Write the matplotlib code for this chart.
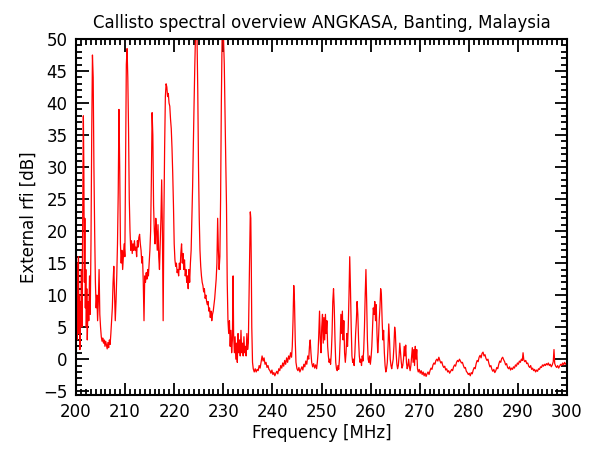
import matplotlib
matplotlib.use("Agg")
import matplotlib.pyplot as plt
from matplotlib.ticker import MultipleLocator

# (frequency MHz, external rfi dB), segment by segment
seg_200_236 = [
    (200.0, 2), (200.1, 8), (200.2, 3), (200.3, 15), (200.4, 5), (200.5, 16), (200.6, 4),
    (200.7, 10), (200.8, 1.5), (200.9, 9), (201.0, 6), (201.1, 14), (201.2, 5), (201.35, 20),
    (201.5, 38), (201.6, 30), (201.7, 12), (201.8, 22), (201.9, 8), (202.0, 14), (202.1, 5),
    (202.2, 11), (202.3, 3), (202.45, 9), (202.6, 6), (202.75, 13), (202.9, 7), (203.05, 18),
    (203.2, 35), (203.35, 47.5), (203.5, 44), (203.65, 30), (203.8, 20), (203.95, 12),
    (204.1, 8), (204.25, 10), (204.4, 6), (204.55, 9), (204.7, 14), (204.85, 7), (205.0, 5),
    (205.15, 3.5), (205.3, 2.8), (205.45, 3.3), (205.6, 2.5), (205.75, 3), (205.9, 2),
    (206.05, 2.8), (206.2, 2.2), (206.35, 1.6), (206.5, 2.6), (206.65, 1.8), (206.8, 3),
    (206.95, 2.3), (207.1, 4), (207.25, 6), (207.4, 8), (207.55, 12), (207.7, 14.5),
    (207.85, 10), (208.0, 6), (208.15, 9), (208.3, 13), (208.45, 18), (208.6, 26),
    (208.75, 39), (208.9, 30), (209.05, 18), (209.2, 15), (209.35, 17), (209.5, 14),
    (209.65, 16), (209.8, 18), (209.95, 16), (210.1, 30), (210.25, 46), (210.4, 48.5),
    (210.55, 44), (210.7, 36), (210.85, 25), (211.0, 20), (211.15, 17), (211.3, 18.5),
    (211.45, 16.5), (211.6, 18), (211.75, 17), (211.9, 18.5), (212.05, 17), (212.2, 17.5),
    (212.35, 16), (212.5, 18.5), (212.65, 17.5), (212.8, 19), (212.95, 19.5), (213.1, 18),
    (213.25, 17), (213.4, 15), (213.55, 16), (213.7, 12), (213.85, 6), (214.0, 13),
    (214.15, 12), (214.3, 13.5), (214.45, 12.5), (214.6, 14), (214.75, 13), (214.9, 15),
    (215.05, 17), (215.2, 20), (215.35, 28), (215.5, 38.5), (215.65, 35), (215.8, 24),
    (215.95, 20), (216.1, 18), (216.25, 22), (216.4, 20), (216.55, 17), (216.7, 21),
    (216.85, 16), (217.0, 14), (217.15, 18), (217.3, 22), (217.45, 28), (217.6, 20),
    (217.75, 6), (217.9, 22), (218.05, 33), (218.2, 41), (218.35, 43), (218.5, 42.5),
    (218.65, 41), (218.8, 41.5), (218.95, 40), (219.1, 39.5), (219.25, 37.5), (219.4, 36),
    (219.55, 33), (219.7, 29), (219.85, 24), (220.0, 18), (220.15, 15.5), (220.3, 14.5),
    (220.45, 15), (220.6, 13.5), (220.75, 14), (220.9, 13), (221.05, 15), (221.2, 14),
    (221.35, 16.5), (221.5, 18), (221.65, 15), (221.8, 16.5), (221.95, 14), (222.1, 15.5),
    (222.25, 13), (222.4, 14), (222.55, 12), (222.7, 13), (222.85, 11), (223.0, 14),
    (223.15, 12), (223.3, 15), (223.45, 17), (223.6, 22), (223.75, 27), (223.9, 34),
    (224.05, 40), (224.2, 46), (224.35, 51), (224.5, 53), (224.65, 50), (224.8, 42),
    (224.95, 30), (225.1, 22), (225.25, 17), (225.4, 14.5), (225.55, 13), (225.7, 12),
    (225.85, 11.5), (226.0, 10.5), (226.15, 11), (226.3, 9.5), (226.45, 10), (226.6, 9),
    (226.75, 8.5), (226.9, 9), (227.05, 7.5), (227.2, 8), (227.35, 6.5), (227.5, 7.5),
    (227.65, 6), (227.8, 7), (227.95, 7.5), (228.1, 8.5), (228.25, 9.5), (228.4, 11),
    (228.55, 12.5), (228.7, 15), (228.85, 22), (229.0, 17), (229.15, 14), (229.3, 16),
    (229.45, 25), (229.6, 40), (229.75, 50), (229.9, 53), (230.05, 50), (230.2, 46),
    (230.35, 38), (230.5, 31), (230.65, 24), (230.8, 12), (230.95, 6), (231.1, 4),
    (231.25, 6), (231.4, 2), (231.55, 4.5), (231.7, 1), (231.85, 3), (232.0, 13),
    (232.1, 4), (232.25, 1), (232.4, 3.5), (232.55, 0), (232.7, 2.5), (232.85, -0.5),
    (233.0, 4), (233.15, 1), (233.3, 3), (233.45, 0.5), (233.6, 4.5), (233.75, 1),
    (233.9, 2.5), (234.05, 0.5), (234.2, 3.5), (234.35, 1), (234.5, 2), (234.65, 0.5),
    (234.8, 4), (234.95, 1.5), (235.1, 2.5), (235.25, 10), (235.4, 18), (235.5, 23),
    (235.6, 22), (235.7, 15), (235.8, 5), (235.95, -0.5),
]

seg_236_270 = [
    (236.1, -1.5), (236.3, -2), (236.5, -1.5), (236.7, -2), (236.9, -1.6), (237.1, -1.8),
    (237.3, -1), (237.5, -1.4), (237.7, -0.5), (237.9, 0.5), (238.1, -0.3), (238.3, 0.2),
    (238.5, -0.8), (238.7, -0.5), (238.9, -1.3), (239.1, -1), (239.3, -1.6), (239.5, -1.8),
    (239.7, -2.2), (239.9, -1.7), (240.1, -2.4), (240.3, -2.1), (240.5, -2.6), (240.7, -2.2),
    (240.9, -1.9), (241.1, -2.3), (241.3, -1.5), (241.5, -1.8), (241.7, -1.0), (241.9, -1.4),
    (242.1, -0.6), (242.3, -1.1), (242.5, -0.2), (242.7, -0.8), (242.9, 0.2), (243.1, -0.5),
    (243.3, 0.5), (243.5, 0), (243.7, 1), (243.9, 0.3), (244.05, 2), (244.2, 6),
    (244.35, 11.5), (244.5, 9), (244.65, 3), (244.8, -0.5), (245.0, -1.5), (245.2, -1.8),
    (245.4, -1.3), (245.6, -2), (245.8, -1.6), (246.0, -1.2), (246.2, -1.7), (246.4, -0.8),
    (246.6, -1.2), (246.8, -0.3), (247.0, -0.8), (247.2, 0.5), (247.4, 0), (247.55, 2),
    (247.7, 3), (247.85, 1), (248.0, -0.5), (248.2, -1.2), (248.4, -0.7), (248.6, -1.4),
    (248.8, -0.9), (249.0, -1.5), (249.15, -0.5), (249.3, 1), (249.45, 4), (249.6, 7.5),
    (249.75, 3), (249.9, 1), (250.05, 5), (250.2, 7), (250.35, 2.5), (250.5, 6.5),
    (250.65, 3), (250.8, 7), (250.95, 4), (251.1, 6), (251.25, 2), (251.4, 0.5),
    (251.55, -0.5), (251.7, 0), (251.85, -0.8), (252.0, 1), (252.15, 4), (252.3, 9),
    (252.45, 11), (252.6, 8), (252.75, 3), (252.9, -0.5), (253.05, -1.5), (253.2, -1.8),
    (253.35, -1), (253.5, -1.6), (253.65, 0), (253.8, 3), (253.95, 7), (254.1, 4),
    (254.25, 7.5), (254.4, 3), (254.55, 6), (254.7, 1), (254.85, -0.5), (255.0, 1),
    (255.15, 4), (255.3, 2), (255.45, 5), (255.6, 10), (255.75, 16), (255.9, 11),
    (256.05, 5), (256.2, 0.5), (256.35, -0.5), (256.5, 0), (256.65, -1), (256.8, 1),
    (256.95, 4), (257.1, 6), (257.25, 9), (257.4, 7), (257.55, 3), (257.7, 0.5),
    (257.85, -0.5), (258.0, 0), (258.15, -1), (258.3, 0.5), (258.45, -0.3), (258.6, 1.5),
    (258.75, 5), (258.9, 10), (259.05, 14), (259.2, 9), (259.35, 3), (259.5, 0),
    (259.65, -0.5), (259.8, 0.5), (259.95, -0.8), (260.1, 0.3), (260.25, 2), (260.4, 5),
    (260.55, 8), (260.7, 7), (260.85, 9), (261.0, 6), (261.15, 8.5), (261.3, 4),
    (261.45, 1), (261.6, 3), (261.75, 6), (261.9, 8), (262.05, 11), (262.2, 10),
    (262.35, 6), (262.5, 3), (262.65, 4.5), (262.8, 1), (262.95, -1), (263.1, -2),
    (263.25, -1.5), (263.4, -0.5), (263.55, 2), (263.7, 5.5), (263.85, 3), (264.0, 0),
    (264.15, -1), (264.3, -1.5), (264.45, -0.8), (264.6, 0), (264.75, 2), (264.9, 5),
    (265.05, 4), (265.2, 1), (265.35, -0.8), (265.5, -1.5), (265.65, -1), (265.8, 0.5),
    (265.95, 2.5), (266.1, 1), (266.25, -0.5), (266.4, -1.4), (266.55, -1), (266.7, 0),
    (266.85, 2), (267.0, 0.5), (267.15, 2.2), (267.3, -0.5), (267.45, -1.5), (267.6, -1),
    (267.75, 0), (267.9, -1.2), (268.05, -1.8), (268.2, -1), (268.35, 0.5), (268.5, 1.8),
    (268.65, -0.5), (268.8, 1.5), (268.95, -1), (269.1, 2), (269.25, 0), (269.4, 1.5),
    (269.55, -1.5), (269.7, -2), (269.9, -1.6),
]

seg_270_300 = [
    (270.1, -2.2), (270.3, -1.8), (270.5, -2.4), (270.7, -2), (270.9, -2.6), (271.1, -2.2),
    (271.3, -2.7), (271.5, -2.3), (271.7, -2), (271.9, -2.4), (272.1, -1.8), (272.3, -1.4),
    (272.5, -1.6), (272.7, -0.9), (272.9, -0.6), (273.1, -0.8), (273.3, -0.2), (273.5, 0),
    (273.7, -0.3), (273.9, 0.3), (274.1, -0.2), (274.3, -0.6), (274.5, -0.4), (274.7, -1),
    (274.9, -1.3), (275.1, -1.1), (275.3, -1.7), (275.5, -1.5), (275.7, -2), (275.9, -1.8),
    (276.1, -2.2), (276.3, -1.9), (276.5, -1.6), (276.7, -1.8), (276.9, -1.2), (277.1, -0.9),
    (277.3, -1.1), (277.5, -0.5), (277.7, -0.2), (277.9, -0.4), (278.1, 0), (278.3, -0.3),
    (278.5, -0.6), (278.7, -0.5), (278.9, -1), (279.1, -1.4), (279.3, -1.3), (279.5, -1.9),
    (279.7, -2.1), (279.9, -2.4), (280.1, -2.2), (280.3, -2.6), (280.5, -2.1), (280.7, -2.3),
    (280.9, -1.7), (281.1, -1.3), (281.3, -1.5), (281.5, -0.7), (281.7, -0.2), (281.9, -0.4),
    (282.1, 0.3), (282.3, 0.6), (282.5, 0.2), (282.7, 0.9), (282.9, 1.1), (283.1, 0.5),
    (283.3, 0.7), (283.5, 0.1), (283.7, -0.2), (283.9, 0), (284.1, -0.7), (284.3, -1.2),
    (284.5, -1), (284.7, -1.6), (284.9, -1.9), (285.1, -1.6), (285.3, -2.1), (285.5, -1.8),
    (285.7, -1.3), (285.9, -1.5), (286.1, -0.8), (286.3, -0.3), (286.5, -0.5), (286.7, 0.1),
    (286.9, 0.3), (287.1, -0.1), (287.3, -0.4), (287.5, -0.9), (287.7, -0.7), (287.9, -1.3),
    (288.1, -1.5), (288.3, -1.2), (288.5, -1.7), (288.7, -1.4), (288.9, -1.6), (289.1, -1.2),
    (289.3, -1.4), (289.5, -0.9), (289.7, -1.1), (289.9, -0.6), (290.1, -0.8), (290.3, -0.3),
    (290.5, -0.5), (290.7, 0), (290.9, -0.2), (291.05, 1), (291.2, -0.1), (291.4, -0.4),
    (291.6, -0.2), (291.8, -0.7), (292.0, -0.6), (292.2, -1.1), (292.4, -1.3), (292.6, -1.0),
    (292.8, -1.6), (293.0, -1.4), (293.2, -1.8), (293.4, -1.6), (293.6, -2), (293.8, -1.7),
    (294.0, -1.9), (294.2, -1.5), (294.4, -1.6), (294.6, -1.2), (294.8, -1.3), (295.0, -0.9),
    (295.2, -1.1), (295.4, -0.8), (295.6, -1), (295.8, -0.7), (296.0, -0.9), (296.2, -0.6),
    (296.4, -1), (296.6, -0.8), (296.8, -1.2), (297.0, -0.9), (297.2, -0.4), (297.35, 1.5),
    (297.5, -0.7), (297.7, -1.1), (297.9, -1.3), (298.1, -1.0), (298.3, -1.4), (298.5, -1.1),
    (298.7, -0.8), (298.9, -1.0), (299.1, -0.6), (299.3, -0.9), (299.5, -0.5), (299.7, -0.8),
    (299.9, -0.6), (300.0, -0.8),
]

title_text = "Callisto spectral overview ANGKASA, Banting, Malaysia"
x_label = "Frequency [MHz]"
y_label = "External rfi [dB]"

points = seg_200_236 + seg_236_270 + seg_270_300
freq = [p[0] for p in points]
rfi = [p[1] for p in points]

plt.rcParams['font.family'] = ['DejaVu Sans']
fig = plt.figure(figsize=(5.95, 4.5), dpi=100)
ax = fig.add_axes([76 / 595, 1 - 395 / 450, (567 - 76) / 595, (395 - 39) / 450])
ax.plot(freq, rfi, color='#ff0000', linewidth=0.9)

ax.set_xlim(200, 300)
ax.set_ylim(-5.6, 50)
ax.xaxis.set_major_locator(MultipleLocator(10))
ax.xaxis.set_minor_locator(MultipleLocator(1))
ax.yaxis.set_major_locator(MultipleLocator(5))
ax.yaxis.set_minor_locator(MultipleLocator(1))
ax.tick_params(which='both', direction='in', top=True, right=True, width=1.3, colors='black',
               labelsize=12, pad=6)
ax.tick_params(which='major', length=9)
ax.tick_params(which='minor', length=4)
for s in ax.spines.values():
    s.set_linewidth(1.5)

ax.set_title(title_text, fontsize=12, pad=8)
ax.set_xlabel(x_label, fontsize=12, labelpad=2)
ax.set_ylabel(y_label, fontsize=12, labelpad=4)

fig.savefig("out.png", dpi=100, facecolor='white')
